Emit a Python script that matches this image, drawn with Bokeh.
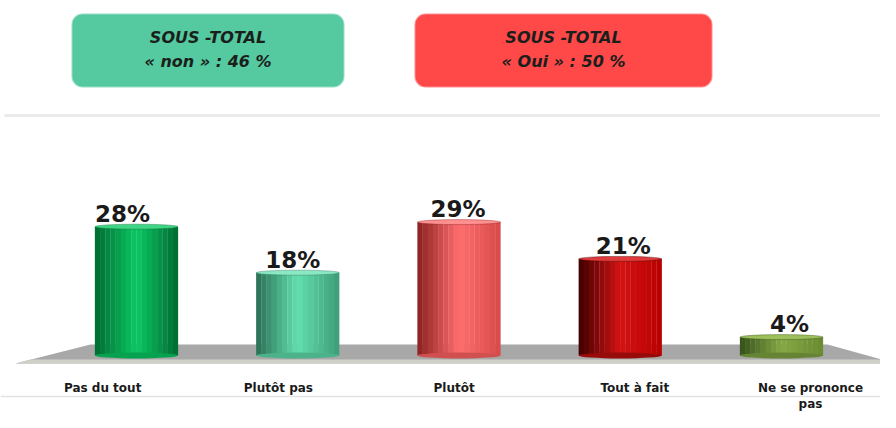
from bokeh.plotting import figure
from bokeh.models import Range1d, BoxAnnotation, ColumnDataSource
from bokeh.core.properties import value
from bokeh.embed import file_html
from bokeh.resources import INLINE

categories = ["Pas du tout", "Plutôt pas", "Plutôt", "Tout à fait", "Ne se prononce\npas"]
values = [28, 18, 29, 21, 4]
value_labels = ["28%", "18%", "29%", "21%", "4%"]
edge_left = ["#006A30", "#2A6E55", "#8A2020", "#3E0000", "#34501A"]
centre = ["#0CC864", "#62DFAE", "#FF6E6E", "#D41212", "#86A845"]
edge_right = ["#006A30", "#3E9C78", "#D84A4A", "#B80000", "#6A8A30"]
top_colors = ["#3FD584", "#8AE8C4", "#FF9090", "#E03A3A", "#9DBE5A"]
box_texts = [("SOUS -TOTAL", "« non » : 46 %"), ("SOUS -TOTAL", "« Oui » : 50 %")]
box_colors = ["#55C9A0", "#FF4848"]

W, H = 880, 412
UX = 161.25   # px per category
UY = 4.6      # px per percent
X0 = 136.0    # x of first bar centre
Y0 = 355.0    # y of base

def px(page_x):
    return (page_x - X0) / UX

def py(page_y):
    return (Y0 - page_y) / UY

p = figure(width=W, height=H, output_backend="svg", toolbar_location=None,
           x_range=Range1d(px(0), px(W)), y_range=Range1d(py(H), py(0)),
           min_border=0, outline_line_color=None)
p.axis.visible = False
p.grid.visible = False
p.background_fill_color = "white"

# header boxes
box_pages = [(72, 343), (415, 711)]
for (l, r), col, (t1, t2) in zip(box_pages, box_colors, box_texts):
    p.add_layout(BoxAnnotation(left=px(l), right=px(r), top=py(14), bottom=py(86),
                               fill_color=col, fill_alpha=1, line_color=col,
                               line_alpha=0.6, line_width=2, border_radius=10,
                               level="underlay"))
    cx = px((l + r) / 2)
    p.text(x=[cx, cx], y=[py(37), py(61)], text=[t1, t2],
           text_font=value("DejaVu Sans"), text_font_style="bold italic",
           text_font_size="16px", text_color="#1A1F1C", text_align="center",
           text_baseline="middle")

# separator lines
p.line(x=[px(4), px(W)], y=[py(115), py(115)], line_color="#EBEBEB", line_width=3)
p.line(x=[px(0), px(880)], y=[py(396), py(396)], line_color="#E2E2E2", line_width=1.5)

# platform
p.patch(x=[px(15), px(90), px(827), px(896)], y=[py(363), py(344), py(344), py(363)],
        fill_color="#A8A8A8", line_color=None)
p.patch(x=[px(15), px(30), px(890), px(896)], y=[py(363), py(359), py(359), py(363)],
        fill_color="#CFCFC8", line_color=None)

def mix(c1, c2, t):
    a = [int(c1[i:i + 2], 16) for i in (1, 3, 5)]
    b = [int(c2[i:i + 2], 16) for i in (1, 3, 5)]
    return "#%02x%02x%02x" % tuple(round(a[k] + (b[k] - a[k]) * t) for k in range(3))

BW = 83 / UX
N = 16
for i, v in enumerate(values):
    xs, cols = [], []
    for k in range(N):
        f = (k + 0.5) / N
        if f < 0.5:
            c = mix(edge_left[i], centre[i], f / 0.5)
        else:
            c = mix(centre[i], edge_right[i], (f - 0.5) / 0.5)
        xs.append(i - BW / 2 + f * BW)
        cols.append(c)
    src = ColumnDataSource(dict(x=xs, top=[v] * N, c=cols))
    p.vbar(x="x", top="top", bottom=0, width=BW / N * 1.05, source=src,
           fill_color="c", line_color=None)
    p.ellipse(x=[i], y=[0], width=[BW], height=[6], height_units="screen",
              fill_color=mix(edge_left[i], centre[i], 0.6), line_color=None)
    p.ellipse(x=[i], y=[v], width=[BW], height=[5], height_units="screen",
              fill_color=top_colors[i], line_color=edge_left[i], line_alpha=0.4)

# value labels (slight perspective shift)
lab_shift = [-14, -5, -1, 3, 8]
p.text(x=[i + s / UX for i, s in enumerate(lab_shift)], y=[v + 13 / UY for v in values],
       text=value_labels, text_font=value("DejaVu Sans"), text_font_style="bold",
       text_font_size="23px", text_color="#1A1A1A", text_align="center",
       text_baseline="alphabetic")

# category labels (first line, then wrapped remainder)
offsets = [-0.21, -0.12, -0.03, 0.09, 0.18]
label_x = [i + o for i, o in enumerate(offsets)]
first = [c.split("\n")[0] for c in categories]
rest_x = [x for x, c in zip(label_x, categories) if "\n" in c]
rest = [c.split("\n")[1] for c in categories if "\n" in c]
p.text(x=label_x, y=[py(387)] * len(first), text=first,
       text_font=value("DejaVu Sans"), text_font_style="bold",
       text_font_size="12px", text_color="#1A1A1A", text_align="center",
       text_baseline="middle")
p.text(x=rest_x, y=[py(403)] * len(rest), text=rest,
       text_font=value("DejaVu Sans"), text_font_style="bold",
       text_font_size="12px", text_color="#1A1A1A", text_align="center",
       text_baseline="middle")

open("out.html", "w").write(file_html(p, INLINE))
